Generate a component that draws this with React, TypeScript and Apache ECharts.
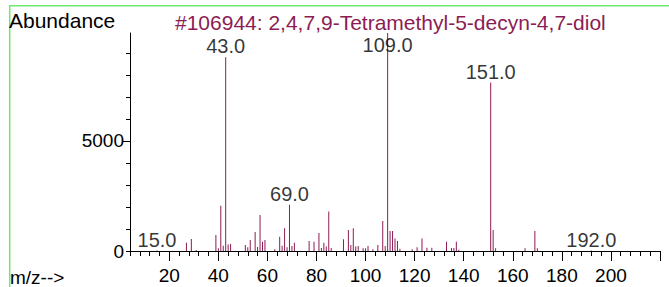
import React, { useEffect, useRef } from "react";
import * as echarts from "echarts";

// m/z values and their abundances
const mzValues = [
  15, 27, 29, 31, 39, 40, 41, 42, 43, 44, 45, 51, 52, 53, 55, 56, 57, 58, 59, 63,
  65, 66, 67, 68, 69, 70, 71, 77, 79, 81, 82, 83, 84, 85, 86, 91, 93, 94, 95, 96,
  97, 99, 100, 101, 103, 105, 107, 108, 109, 110, 111, 112, 113, 114, 119, 121,
  123, 125, 127, 133, 135, 136, 137, 138, 151, 152, 153, 165, 169, 170, 192,
];
const abundances = [
  20, 380, 545, 40, 730, 120, 2060, 240, 8800, 300, 320, 270, 170, 500, 860, 180,
  1640, 420, 500, 80, 650, 240, 1030, 170, 2100, 230, 380, 450, 420, 820, 140, 380,
  200, 1790, 140, 530, 950, 270, 1030, 200, 230, 130, 130, 230, 80, 270, 1360, 230,
  9900, 910, 910, 570, 450, 100, 80, 170, 570, 150, 150, 420, 140, 140, 420, 60,
  7650, 950, 120, 120, 910, 130, 20,
];
const labelledPeaks = [15, 43, 69, 109, 151, 192];
const xTickLabels = [20, 40, 60, 80, 100, 120, 140, 160, 180, 200];
const xMajorTicks = [20, 40, 60, 80, 100, 120, 140, 160, 180, 200, 220];
const yTickLabels = [0, 5000];
const yMajorTicks = [5000];
const titleText = "#106944: 2,4,7,9-Tetramethyl-5-decyn-4,7-diol";
const yName = "Abundance";
const xName = "m/z-->";

const X_MIN = 4;
const X_MAX = 220;
const Y_MAX = 9900;
const LABEL_CAP = 8860;
const FONT = "'Liberation Sans', Arial, Helvetica, sans-serif";
const PEAK_COLOR = "#8c1c54";
const FRAME_COLOR = "#6ee86e";

export default function App() {
  const ref = useRef<HTMLDivElement>(null);

  useEffect(() => {
    const chart = echarts.init(ref.current!, null, { renderer: "svg" });

    const xMinor: number[] = [];
    for (let v = X_MIN; v <= X_MAX; v += 4) xMinor.push(v);
    const yMinor: number[] = [];
    for (let v = 0; v <= 9000; v += 1000) yMinor.push(v);

    const peakData = mzValues.map((m, i) => [m, abundances[i]]);
    const labelData = labelledPeaks.map((m) => {
      const i = mzValues.indexOf(m);
      return [m, Math.min(abundances[i], LABEL_CAP)];
    });

    const grid = { left: 130, right: 9, top: 33, bottom: 36 };

    chart.setOption({
      animation: false,
      backgroundColor: "#ffffff",
      grid,
      xAxis: [
        {
          type: "value",
          min: X_MIN,
          max: X_MAX,
          position: "bottom",
          axisLine: { show: true, onZero: false, lineStyle: { color: "#000", width: 1 } },
          axisTick: { show: true, length: 5, customValues: xMinor, lineStyle: { color: "#000" } },
          axisLabel: {
            show: true,
            customValues: xTickLabels,
            margin: 15,
            color: "#000",
            fontSize: 19,
            fontFamily: FONT,
            formatter: (v: number) => String(v),
          },
          splitLine: { show: false },
        },
        {
          type: "value",
          min: X_MIN,
          max: X_MAX,
          position: "bottom",
          axisLine: { show: false },
          axisTick: { show: true, length: 10, customValues: xMajorTicks, lineStyle: { color: "#000" } },
          axisLabel: { show: false },
          splitLine: { show: false },
        },
      ],
      yAxis: [
        {
          type: "value",
          min: 0,
          max: Y_MAX,
          position: "left",
          axisLine: { show: true, onZero: false, lineStyle: { color: "#000", width: 1 } },
          axisTick: { show: true, length: 4, customValues: yMinor, lineStyle: { color: "#000" } },
          axisLabel: {
            show: true,
            customValues: yTickLabels,
            margin: 6,
            color: "#000",
            fontSize: 19,
            fontFamily: FONT,
            formatter: (v: number) => String(v),
          },
          splitLine: { show: false },
        },
        {
          type: "value",
          min: 0,
          max: Y_MAX,
          position: "left",
          axisLine: { show: false },
          axisTick: { show: true, length: 7, customValues: yMajorTicks, lineStyle: { color: "#000" } },
          axisLabel: { show: false },
          splitLine: { show: false },
        },
      ],
      series: [
        {
          type: "bar",
          xAxisIndex: 0,
          yAxisIndex: 0,
          data: peakData,
          barWidth: 1,
          itemStyle: { color: PEAK_COLOR },
          silent: true,
        },
        {
          type: "scatter",
          xAxisIndex: 0,
          yAxisIndex: 0,
          data: labelData,
          symbolSize: 0,
          silent: true,
          label: {
            show: true,
            position: "top",
            distance: 1,
            color: "#000",
            fontSize: 20,
            fontFamily: FONT,
            formatter: (p: any) => Number(p.value[0]).toFixed(1),
          },
        },
      ],
      graphic: [
        {
          type: "rect",
          shape: { x: 9.7, y: 5.8, width: 720, height: 400 },
          style: { fill: "none", stroke: FRAME_COLOR, lineWidth: 1.5 },
          silent: true,
        },
        {
          type: "text",
          x: 10,
          y: 3,
          style: {
            text: xName,
            fill: "#000",
            font: `19px ${FONT}`,
            textAlign: "left",
            textVerticalAlign: "bottom",
          },
          silent: true,
        },
        {
          type: "text",
          x: 9,
          y: 20,
          style: {
            text: yName,
            fill: "#000",
            font: `21px ${FONT}`,
            textAlign: "left",
            textVerticalAlign: "middle",
          },
          silent: true,
        },
        {
          type: "text",
          x: 175,
          y: 22,
          style: {
            text: titleText,
            fill: PEAK_COLOR,
            font: `21px ${FONT}`,
            textAlign: "left",
            textVerticalAlign: "middle",
          },
          silent: true,
        },
        {
          type: "text",
          x: 10,
          y: 277,
          style: {
            text: xName,
            fill: "#000",
            font: `19px ${FONT}`,
            textAlign: "left",
            textVerticalAlign: "middle",
          },
          silent: true,
        },
      ],
    });

    return () => chart.dispose();
  }, []);

  return (
    <div
      ref={ref}
      style={{ position: "absolute", left: 0, top: 0, width: 669, height: 287 }}
    />
  );
}
